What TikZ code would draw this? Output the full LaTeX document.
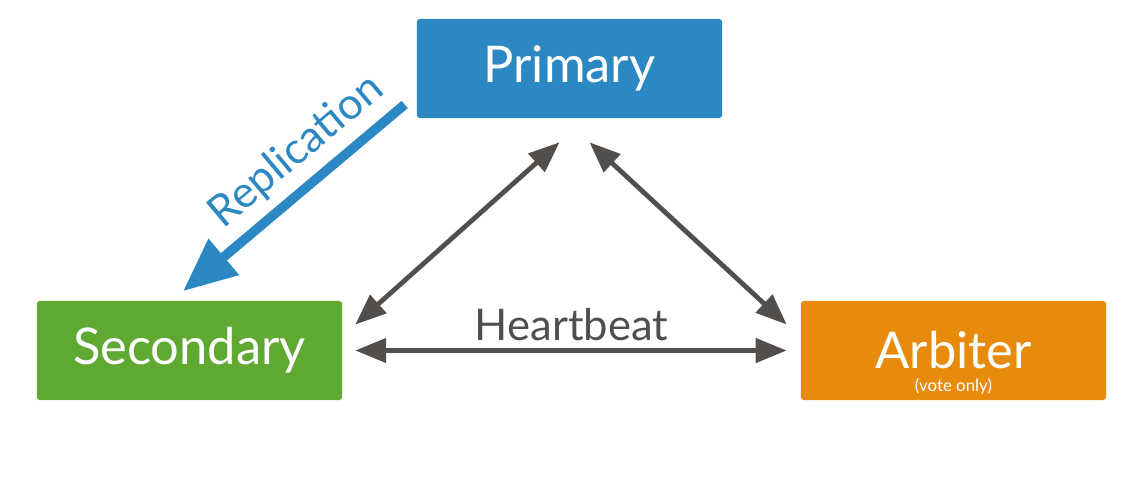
\documentclass[tikz,border=0pt]{standalone}
\usepackage{fontspec}
\setmainfont{Lato}
\usepackage{tikz}
\usetikzlibrary{arrows.meta,positioning,calc}
\usepackage{xcolor}

\definecolor{primblue}{RGB}{43,136,194}
\definecolor{secgreen}{RGB}{95,168,50}
\definecolor{arborange}{RGB}{232,139,12}
\definecolor{beatgray}{RGB}{82,78,76}

\begin{document}
\begin{tikzpicture}[x=0.025cm, y=0.025cm,
        member/.style={rounded corners=2pt, minimum width=7.625cm, minimum height=2.475cm,
                        align=center, text=white, font=\fontsize{36}{40}\selectfont},
        vote/.style={text=white, inner sep=1pt, font=\fontsize{12}{14}\selectfont},
        beat/.style={{Triangle[length=22pt,width=17pt]}-{Triangle[length=22pt,width=17pt]},
                        line width=3.4pt, draw=beatgray},
        repl/.style={-{Triangle[length=38pt,width=32pt]}, line width=6.8pt, draw=primblue},
        tag/.style={font=\fontsize{31}{34}\selectfont}
    ]
    \useasboundingbox (0,0) rectangle (1138,483);

    % ---- membros do replica set ----
    \node[member, fill=primblue] (pri) at (569.5, 414.5) {Primary};
    \node[member, fill=secgreen] (sec) at (189.5, 132.5) {Secondary};
    \node[member, fill=arborange,
          label={[vote, anchor=south, yshift=3pt]south:(vote only)}] (arb) at (953.5, 132.5) {Arbiter};

    % Replicacao: Primary -> Secondary
    \draw[repl] ($(pri.west)+(-12,-36)$) -- node[pos=0.39, rotate=40, yshift=24pt, tag, text=primblue]{Replication}
        ($(sec.north)+(-6.5,9.5)$);

    % Heartbeat entre todos
    \draw[beat] ($(sec.east)+(13,26)$) -- ($(pri.south)+(-10,-24)$);
    \draw[beat] ($(pri.south)+(20,-24)$) -- ($(arb.west)+(-14,26)$);
    \draw[beat, shorten <=9.2pt, shorten >=10pt] (sec.east) --
        node[midway, anchor=base, yshift=7pt, tag, text=beatgray]{Heartbeat} (arb.west);

\end{tikzpicture}
\end{document}
